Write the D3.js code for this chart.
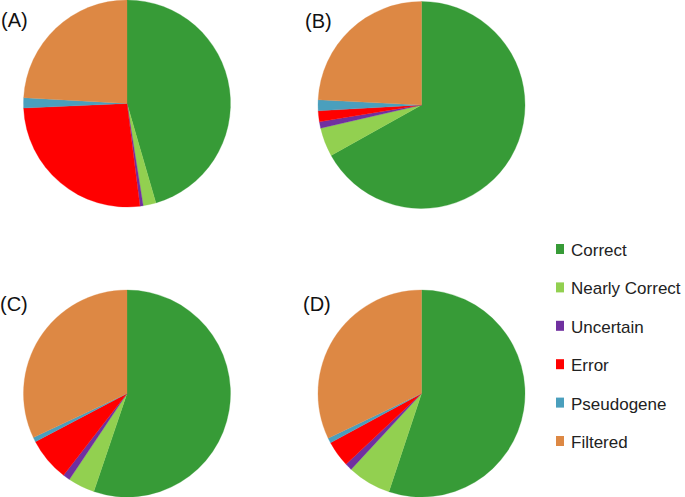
<html> <head>
<script src="https://d3js.org/d3.v7.min.js"></script>
<style>
  body { margin: 0; background: #fff; }
  text { font-family: "Liberation Sans", Arial, sans-serif; }
</style>
</head>
<body>
<div id="chart"></div>
<script>

// data
const categories = ['Correct', 'Nearly Correct', 'Uncertain', 'Error', 'Pseudogene', 'Filtered'];
const colors = ['#379b37', '#92d050', '#7030a0', '#ff0000', '#4a9fbd', '#dd8844'];
const panels = ['(A)', '(B)', '(C)', '(D)'];
const valuesA = [45.5, 2.0, 0.5, 26.3, 1.6, 24.1];
const valuesB = [66.9, 4.5, 1.0, 1.7, 1.7, 24.2];
const valuesC = [55.2, 4.2, 1.1, 6.8, 0.7, 32.0];
const valuesD = [55.1, 6.8, 1.1, 4.1, 0.8, 32.1];
const allValues = [valuesA, valuesB, valuesC, valuesD];

// constants
const canvas = [685, 497];
const radius = 103.5;
const centers = [[127, 103.5], [421.5, 105], [127, 393.5], [421.5, 393.5]];
const labelPos = [[1, 27], [305, 28], [0, 311], [303, 311]];

const svg = d3.select('#chart').append('svg')
  .attr('width', canvas[0])
  .attr('height', canvas[1]);

const color = d3.scaleOrdinal().domain(categories).range(colors);
const pie = d3.pie().sort(null).value(d => d.value);
const arc = d3.arc().innerRadius(0).outerRadius(radius);

allValues.forEach((vals, i) => {
  const data = categories.map((c, j) => ({cat: c, value: vals[j]}));
  const g = svg.append('g')
    .attr('transform', `translate(${centers[i][0]}, ${centers[i][1]})`);
  g.selectAll('path')
    .data(pie(data))
    .enter().append('path')
    .attr('d', arc)
    .style('fill', d => color(d.data.cat))
    .style('stroke', d => color(d.data.cat))
    .style('stroke-width', 0.3);
  svg.append('text')
    .attr('x', labelPos[i][0])
    .attr('y', labelPos[i][1])
    .text(panels[i])
    .style('font-size', '20px')
    .style('fill', '#111');
});

// legend
const ly = d3.scaleLinear().domain([0, categories.length - 1]).range([256, 448]);
const legend = svg.append('g');
categories.forEach((c, j) => {
  legend.append('rect')
    .attr('x', 556)
    .attr('y', ly(j) - 12)
    .attr('width', 8)
    .attr('height', 10)
    .style('fill', color(c));
  legend.append('text')
    .attr('x', 571)
    .attr('y', ly(j))
    .text(c)
    .style('font-size', '17px')
    .style('fill', '#222');
});

</script> </body></html>
